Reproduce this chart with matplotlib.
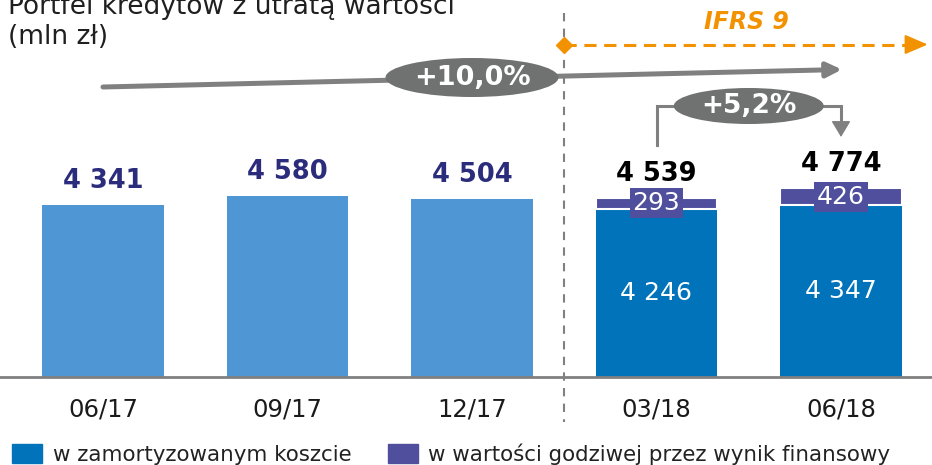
import matplotlib
matplotlib.use('Agg')
import matplotlib.pyplot as plt
from matplotlib.patches import Ellipse, Patch

# dane (mln zł)
okresy = ['06/17', '09/17', '12/17', '03/18', '06/18']
portfel = [4341, 4580, 4504, 4539, 4774]
zamortyzowany = [4246, 4347]          # 03/18, 06/18
wartosc_godziwa = [293, 426]          # 03/18, 06/18
zmiana_rok = '+10,0%'
zmiana_kw = '+5,2%'

c_jasny = '#4E97D4'
c_ciemny = '#0073BB'
c_fiolet = '#4F4F9E'
c_szary = '#808080'
c_elipsa = '#6F7271'
c_pomar = '#F39200'
c_granat = '#2B2C7C'

fig = plt.figure(figsize=(9.32, 4.65), dpi=100)
ax = fig.add_axes([0, 88 / 465, 1, 377 / 465])
SKALA = 25.3  # mln zł na piksel
ax.set_ylim(0, 377 * SKALA)
ax.set_xlim(-103 / 184.5, (932 - 103) / 184.5)

def ypx(p):
    # pozycja pionowa w pikselach od góry -> jednostki osi
    return (377 - p) * SKALA

# slupki przed IFRS 9
ax.bar(range(3), portfel[:3], width=0.66, color=c_jasny, zorder=2)
# slupki po IFRS 9
x2 = [3, 4]
ax.bar(x2, zamortyzowany, width=0.66, color=c_ciemny, zorder=2)
ax.bar(x2, wartosc_godziwa, bottom=zamortyzowany, width=0.66, color=c_fiolet,
       edgecolor='white', linewidth=1.5, zorder=3)

# etykiety sum
for i, v in enumerate(portfel):
    kol = c_granat if i < 3 else 'black'
    ax.annotate(f'{v:,}'.replace(',', ' '), (i, v), xytext=(0, 17),
                textcoords='offset pixels', ha='center', va='baseline',
                fontsize=18.5, fontweight='bold', color=kol, zorder=5)

for x, a, f in zip(x2, zamortyzowany, wartosc_godziwa):
    ax.text(x, a / 2, f'{a:,}'.replace(',', ' '), ha='center', va='center',
            fontsize=18, color='white', zorder=5)
    ax.text(x, a + f / 2, str(f), ha='center', va='center', fontsize=18,
            color='white', zorder=6,
            bbox=dict(boxstyle='square,pad=0.12', fc=c_fiolet, ec='none'))

# osie
for s in ['top', 'left', 'right']:
    ax.spines[s].set_visible(False)
ax.spines['bottom'].set_color(c_szary)
ax.spines['bottom'].set_linewidth(2)
ax.set_yticks([])
ax.set_xticks(range(5), okresy)
ax.tick_params(axis='x', length=0, pad=15, labelsize=17.5, labelcolor='#1a1a1a')
ax.patch.set_visible(False)

# linia IFRS 9
ax.plot([2.5, 2.5], [ypx(13), ypx(422)], color=c_szary, lw=1.5,
        ls=(0, (4, 3.5)), clip_on=False, zorder=1)
ax.plot([2.5, 4.40], [ypx(44.5), ypx(44.5)], color=c_pomar, lw=2.2,
        ls=(0, (4, 2.5)), clip_on=False, zorder=4)
ax.plot([2.5], [ypx(44.5)], marker='D', ms=8, color=c_pomar, clip_on=False, zorder=5)
ax.annotate('', xy=(4.47, ypx(44.5)), xytext=(4.36, ypx(44.5)),
            arrowprops=dict(arrowstyle='-|>,head_length=0.7,head_width=0.3',
                            color=c_pomar, lw=1.5, shrinkA=0, shrinkB=0,
                            mutation_scale=20),
            annotation_clip=False, zorder=5)
ax.text(3.49, ypx(22), 'IFRS 9', ha='center', va='center', fontsize=17,
        fontweight='bold', fontstyle='italic', color=c_pomar)

# strzalka roczna
ax.annotate('', xy=(4.005, ypx(69.5)), xytext=(0, ypx(87)),
            arrowprops=dict(arrowstyle='-|>,head_length=0.45,head_width=0.22',
                            color=c_szary, lw=3.6, shrinkA=0, shrinkB=0,
                            mutation_scale=20),
            annotation_clip=False, zorder=3)
ax.add_patch(Ellipse((2.0, ypx(77.5)), 173 / 184.5, 39 * SKALA,
                     fc=c_elipsa, ec='none', zorder=4, clip_on=False))
ax.text(2.0, ypx(77.5), zmiana_rok, ha='center', va='center', fontsize=19.5,
        fontweight='bold', color='white', zorder=5)

# zmiana kwartalna
ax.plot([3, 3, 4, 4], [ypx(145), ypx(106), ypx(106), ypx(126)], color=c_szary,
        lw=2.2, solid_joinstyle='miter', clip_on=False, zorder=3)
ax.annotate('', xy=(4, ypx(137)), xytext=(4, ypx(124)),
            arrowprops=dict(arrowstyle='-|>,head_length=0.5,head_width=0.3',
                            color=c_szary, lw=1, shrinkA=0, shrinkB=0,
                            mutation_scale=20),
            annotation_clip=False, zorder=3)
ax.add_patch(Ellipse((3.5, ypx(106)), 150 / 184.5, 36 * SKALA,
                     fc=c_elipsa, ec='none', zorder=4, clip_on=False))
ax.text(3.5, ypx(106), zmiana_kw, ha='center', va='center', fontsize=19,
        fontweight='bold', color='white', zorder=5)

# tytul
fig.text(8 / 932, 1 - 14 / 465, 'Portfel kredytów z utratą wartości',
         fontsize=19, color='#1f1f1f', va='baseline')
fig.text(8 / 932, 1 - 44 / 465, '(mln zł)', fontsize=19, color='#1f1f1f',
         va='baseline')

# legenda
uchwyty = [Patch(color=c_ciemny, label='w zamortyzowanym koszcie'),
           Patch(color=c_fiolet, label='w wartości godziwej przez wynik finansowy')]
fig.legend(handles=uchwyty, loc='lower left', bbox_to_anchor=(12 / 932, 0),
           ncol=2, frameon=False, fontsize=15.4, handlelength=1.4,
           handleheight=1.03, handletextpad=0.5, columnspacing=1.7,
           borderpad=0, borderaxespad=0, labelcolor='#222222')

fig.savefig('out.png', dpi=100)
